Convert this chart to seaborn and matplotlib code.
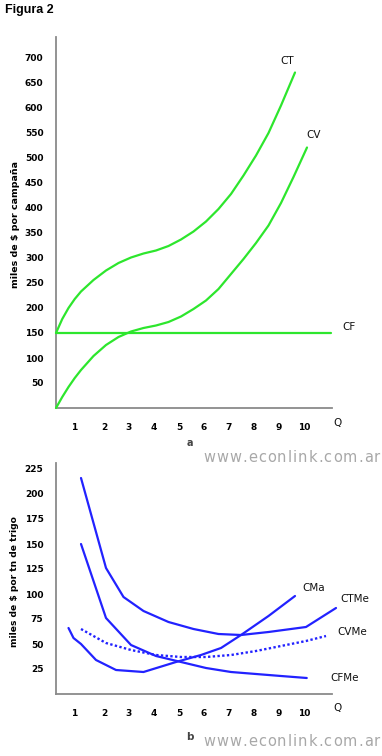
import numpy as np
import pandas as pd
import seaborn as sns
import matplotlib.pyplot as plt
from matplotlib.transforms import ScaledTranslation

# --- data (Q = quantity) ---
ct_q = [0, 0.25, 0.5, 0.75, 1, 1.5, 2, 2.5, 3, 3.5, 4, 4.5, 5, 5.5, 6, 6.5, 7, 7.5, 8, 8.5, 9, 9.56]
ct_v = [150, 178, 200, 218, 233, 256, 275, 290, 301, 309, 315, 324, 337, 353, 373, 398, 428, 465, 505, 550, 605, 671]

cv_q = [0, 0.25, 0.5, 0.75, 1, 1.5, 2, 2.5, 3, 3.5, 4, 4.5, 5, 5.5, 6, 6.5, 7, 7.5, 8, 8.5, 9, 9.5, 10.04]
cv_v = [0, 22, 42, 60, 76, 104, 126, 142, 153, 160, 165, 172, 183, 198, 215, 238, 268, 298, 330, 365, 410, 462, 521]

cf_q = [0, 11]
cf_v = [150, 150]

ctme_q = [1, 2, 2.7, 3.5, 4.5, 5.5, 6.5, 7.4, 8.5, 10, 11.2]
ctme_v = [216, 126, 97, 83, 72, 65, 60, 59, 62, 67, 86]

cfme_q = [1, 2, 3, 4, 5, 6, 7, 8, 9, 10.03]
cfme_v = [150, 76, 49, 38, 32, 26, 22, 20, 18, 16]

cvme_q = [1, 2, 3, 4, 5, 6, 7, 8, 9, 10, 10.8]
cvme_v = [65, 51, 44, 39, 37, 37, 39, 43, 48, 53, 58]

cma_q = [0.5, 0.7, 1, 1.6, 2.4, 3.5, 4.8, 5.8, 6.6, 7.4, 8.5, 9.56]
cma_v = [66, 56, 50, 34, 24, 22, 32, 39, 46, 59, 78, 98]

q_ticks = [1, 2, 3, 4, 5, 6, 7, 8, 9, 10]
top_yticks = [50, 100, 150, 200, 250, 300, 350, 400, 450, 500, 550, 600, 650, 700]
bot_yticks = [25, 50, 75, 100, 125, 150, 175, 200, 225]

GREEN = '#2de62d'
BLUE = '#2222ff'
AXIS_GREY = '#8a8a8a'

sns.set_theme(style="white")
plt.rcParams['font.family'] = ['DejaVu Sans']
plt.rcParams['text.color'] = 'black'

W, H = 382, 756
fig = plt.figure(figsize=(W / 100, H / 100), dpi=100)


def px_axes(x0, y_top, x1, y_bot):
    return fig.add_axes([x0 / W, 1 - y_bot / H, (x1 - x0) / W, (y_bot - y_top) / H])


def style_axes(ax, yticks):
    for s in ['top', 'right']:
        ax.spines[s].set_visible(False)
    for s in ['left', 'bottom']:
        ax.spines[s].set_color(AXIS_GREY)
        ax.spines[s].set_linewidth(1.3)
        ax.spines[s].set_zorder(1)
    ax.set_xticks(q_ticks)
    ax.set_yticks(yticks)
    ax.tick_params(axis='both', direction='inout', length=8, width=1.5, color='black')
    ax.tick_params(axis='x', pad=6.5)
    ax.tick_params(axis='y', pad=5)
    tick_font = dict(family=['Liberation Sans Narrow', 'DejaVu Sans'], weight='bold',
                     size=6.5, color='black')
    ax.set_xticklabels([str(t) for t in q_ticks], **tick_font)
    ax.set_yticklabels([str(t) for t in yticks], **tick_font)
    for lab in ax.get_xticklabels():
        dx = -7 if lab.get_text() == '1' else -2
        lab.set_transform(lab.get_transform() + ScaledTranslation(dx / 100, 0, fig.dpi_scale_trans))
    ax.set_xlabel('')
    ax.set_ylabel('')
    ax.patch.set_alpha(0)


# --- panel a: total costs ---
ax1 = px_axes(56, 37, 332, 408)
sns.lineplot(x=ct_q, y=ct_v, ax=ax1, color=GREEN, lw=1.6, clip_on=False)
sns.lineplot(x=cv_q, y=cv_v, ax=ax1, color=GREEN, lw=1.6, clip_on=False)
sns.lineplot(x=cf_q, y=cf_v, ax=ax1, color=GREEN, lw=1.6, clip_on=False)
ax1.set_xlim(0, 11.04)
ax1.set_ylim(0, 742)
style_axes(ax1, top_yticks)

# --- panel b: unit costs ---
ax2 = px_axes(56, 463, 332, 694)
sns.lineplot(x=ctme_q, y=ctme_v, ax=ax2, color=BLUE, lw=1.6, clip_on=False)
sns.lineplot(x=cfme_q, y=cfme_v, ax=ax2, color=BLUE, lw=1.6, clip_on=False)
sns.lineplot(x=cvme_q, y=cvme_v, ax=ax2, color=BLUE, lw=1.7, linestyle=(0, (1, 1)), clip_on=False)
sns.lineplot(x=cma_q, y=cma_v, ax=ax2, color=BLUE, lw=1.6, clip_on=False)
ax2.set_xlim(0, 11.04)
ax2.set_ylim(0, 231)
style_axes(ax2, bot_yticks)


def ftext(x, y, s, **kw):
    kw.setdefault('ha', 'center')
    kw.setdefault('va', 'center')
    return fig.text(x / W, 1 - y / H, s, **kw)


# title
ftext(5, 10, 'Figura 2', ha='left', family=['Liberation Sans', 'DejaVu Sans'],
      weight='bold', size=9)

# y labels
ftext(16, 224, 'miles de $ por campaña', rotation=90, weight='bold', size=6.8)
ftext(15, 582, 'miles de $ por tn de trigo', rotation=90, weight='bold', size=6.6)

# curve labels
lab = dict(size=7.5, color='#111111')
ftext(287, 61, 'CT', **lab)
ftext(314, 135, 'CV', **lab)
ftext(349, 327, 'CF', **lab)
ftext(337, 423, 'Q', **lab)
ftext(314, 588, 'CMa', **lab)
ftext(355, 599, 'CTMe', **lab)
ftext(352, 632, 'CVMe', **lab)
ftext(345, 678, 'CFMe', **lab)
ftext(337, 708, 'Q', **lab)

# panel letters
ftext(190, 443, 'a', weight='bold', size=7, color='#444444')
ftext(190, 737, 'b', weight='bold', size=7.5, color='#444444')


# watermark, letter-spaced like the original
def spaced_text(x0, y, s, x1, **kw):
    renderer = fig.canvas.get_renderer()
    arts, widths = [], []
    for ch in s:
        t = ftext(x0, y, ch, ha='left', **kw)
        arts.append(t)
        widths.append(t.get_window_extent(renderer).width)
    track = (x1 - x0 - sum(widths)) / (len(s) - 1)
    x = x0
    for t, w in zip(arts, widths):
        t.set_x(x / W)
        x += w + track


mark = dict(size=10.5, color='#a8a8a8')
spaced_text(203, 458, 'www.econlink.com.ar', 380, **mark)
spaced_text(203, 741, 'www.econlink.com.ar', 380, **mark)

fig.savefig('out.png', dpi=100)
